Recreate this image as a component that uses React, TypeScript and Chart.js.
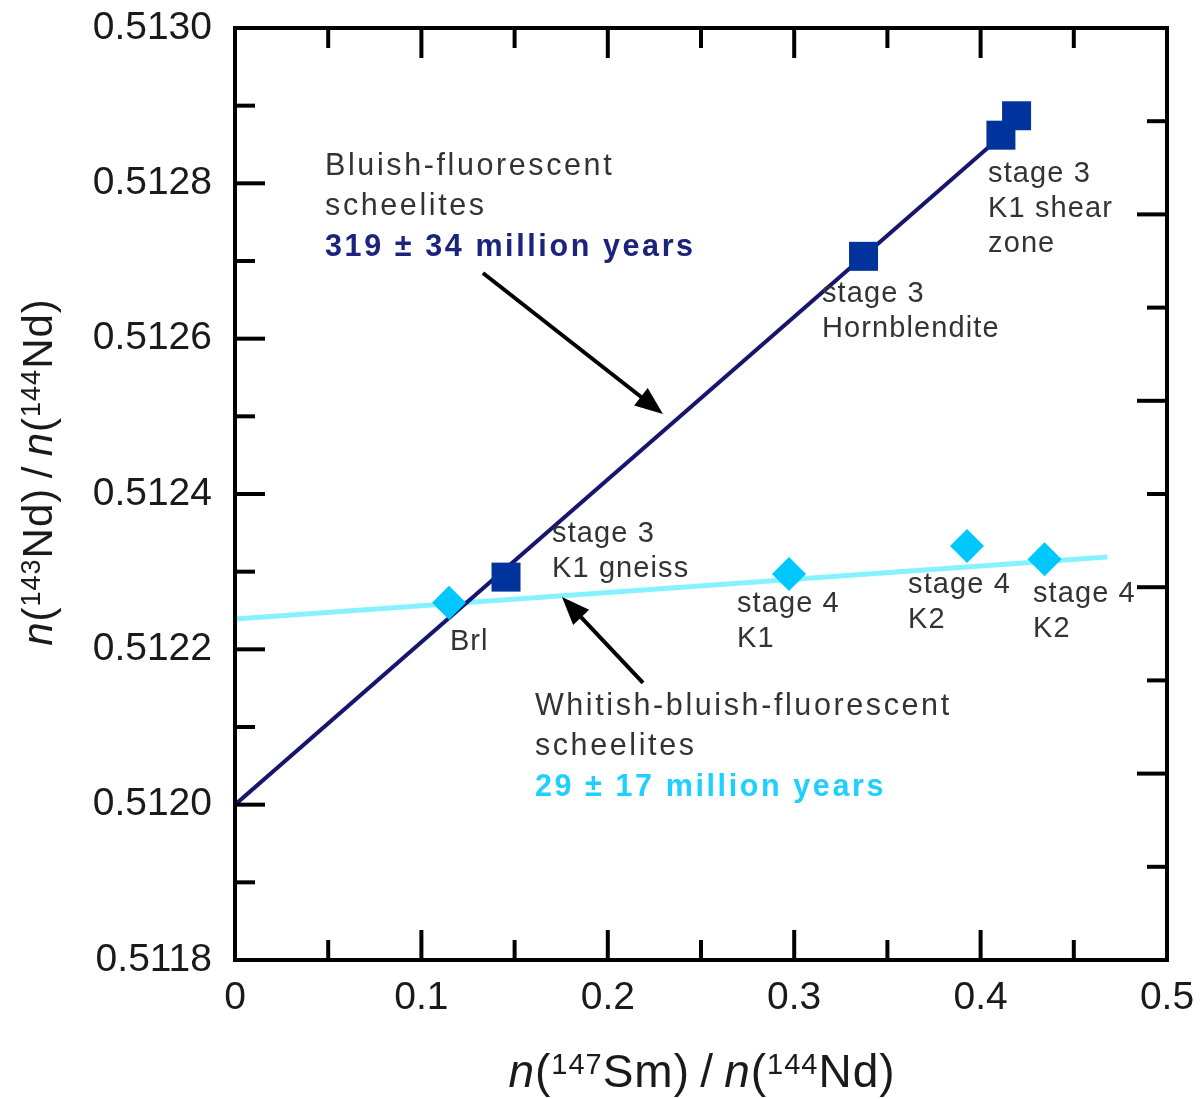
import { useEffect, useRef } from "react";
import { Chart, registerables } from "chart.js";

Chart.register(...registerables);

// ---- axis ticks ----
const xTicks = [0, 0.1, 0.2, 0.3, 0.4, 0.5];
const xTickLabels = ["0", "0.1", "0.2", "0.3", "0.4", "0.5"];
const xMinorTicks = [0.05, 0.15, 0.25, 0.35, 0.45];
const yTicks = [0.5118, 0.512, 0.5122, 0.5124, 0.5126, 0.5128, 0.513];
const yTickLabels = ["0.5118", "0.5120", "0.5122", "0.5124", "0.5126", "0.5128", "0.5130"];
const yMinorTicks = [0.5119, 0.5121, 0.5123, 0.5125, 0.5127, 0.5129];
const rightTicks = [0, 1, 2, 3, 4, 5, 6, 7, 8, 9, 10];

// ---- data ----
const bluishX = [0.1454, 0.3372, 0.4109, 0.4193];
const bluishY = [0.512293, 0.512706, 0.512862, 0.512887];
const whitishX = [0.1148, 0.2972, 0.3927, 0.4343];
const whitishY = [0.51226, 0.512297, 0.512333, 0.512316];
const bluishLineX = [0, 0.425];
const bluishLineY = [0.512, 0.51289];
const whitishLineX = [0, 0.468];
const whitishLineY = [0.512239, 0.512319];

// ---- annotations (data coordinates) ----
const pointLabels = [
  { lines: ["stage 3", "K1 shear", "zone"], x: 0.404, y: 0.5128011 },
  { lines: ["stage 3", "Hornblendite"], x: 0.3149, y: 0.5126472 },
  { lines: ["stage 3", "K1 gneiss"], x: 0.1701, y: 0.5123382 },
  { lines: ["Brl"], x: 0.1153, y: 0.5121992 },
  { lines: ["stage 4", "K1"], x: 0.2693, y: 0.5122481 },
  { lines: ["stage 4", "K2"], x: 0.3611, y: 0.5122725 },
  { lines: ["stage 4", "K2"], x: 0.4281, y: 0.512261 },
];
const groupLabels = [
  { lines: ["Bluish-fluorescent", "scheelites"], age: "319 ± 34 million years", x: 0.0483, y: 0.5128108, color: "#1c237c" },
  { lines: ["Whitish-bluish-fluorescent", "scheelites"], age: "29 ± 17 million years", x: 0.1609, y: 0.5121155, color: "#1fcfff" },
];
const arrows = [
  { x1: 0.133, y1: 0.5126846, x2: 0.2296, y2: 0.512503 },
  { x1: 0.2189, y1: 0.5121567, x2: 0.1754, y2: 0.5122674 },
];

const FONT = '"Liberation Sans", Arial, Helvetica, sans-serif';

type Seg = { t: string; i?: boolean; s?: boolean };
const xTitle: Seg[] = [
  { t: "n", i: true }, { t: "(" }, { t: "147", s: true }, { t: "Sm)\u2009/\u2009" },
  { t: "n", i: true }, { t: "(" }, { t: "144", s: true }, { t: "Nd)" },
];
const yTitle: Seg[] = [
  { t: "n", i: true }, { t: "(" }, { t: "143", s: true }, { t: "Nd)\u2009/\u2009" },
  { t: "n", i: true }, { t: "(" }, { t: "144", s: true }, { t: "Nd)" },
];

function drawRich(ctx: CanvasRenderingContext2D, segs: Seg[], cx: number, cy: number, F: number, S: number, rot: number) {
  ctx.save();
  ctx.translate(cx, cy);
  ctx.rotate(rot);
  ctx.fillStyle = "#1a1a1a";
  ctx.textBaseline = "alphabetic";
  ctx.textAlign = "left";
  (ctx as any).letterSpacing = "1px";
  const fontFor = (g: Seg) => `${g.i ? "italic " : ""}${g.s ? S : F}px ${FONT}`;
  let total = 0;
  const widths = segs.map((g) => {
    ctx.font = fontFor(g);
    const w = ctx.measureText(g.t).width;
    total += w;
    return w;
  });
  let x = -total / 2;
  const raise = 0.716 * (F - S) + 1;
  segs.forEach((g, k) => {
    ctx.font = fontFor(g);
    ctx.fillText(g.t, x, g.s ? -raise : 0);
    x += widths[k];
  });
  ctx.restore();
}

function drawArrow(ctx: CanvasRenderingContext2D, x1: number, y1: number, x2: number, y2: number) {
  const a = Math.atan2(y2 - y1, x2 - x1);
  const hl = 28, hw = 11;
  const bx = x2 - hl * Math.cos(a), by = y2 - hl * Math.sin(a);
  ctx.beginPath();
  ctx.moveTo(x1, y1);
  ctx.lineTo(bx + 4 * Math.cos(a), by + 4 * Math.sin(a));
  ctx.stroke();
  ctx.beginPath();
  ctx.moveTo(x2, y2);
  ctx.lineTo(bx - hw * Math.sin(a), by + hw * Math.cos(a));
  ctx.lineTo(bx + hw * Math.sin(a), by - hw * Math.cos(a));
  ctx.closePath();
  ctx.fill();
}

const overlay = {
  id: "overlay",
  afterDraw(chart: any) {
    const { ctx, chartArea } = chart;
    const { left, right, top, bottom } = chartArea;
    const sx = chart.scales.x, sy = chart.scales.y, s2 = chart.scales.y2;
    ctx.save();
    ctx.strokeStyle = "#000";
    ctx.lineWidth = 4;
    ctx.lineCap = "butt";
    ctx.strokeRect(left, top, right - left, bottom - top);
    const seg = (a: number, b: number, c: number, d: number) => {
      ctx.beginPath(); ctx.moveTo(a, b); ctx.lineTo(c, d); ctx.stroke();
    };
    const MAJ = 30, MIN = 20;
    xTicks.forEach((v) => { const p = sx.getPixelForValue(v); seg(p, bottom, p, bottom - MAJ); seg(p, top, p, top + MAJ); });
    xMinorTicks.forEach((v) => { const p = sx.getPixelForValue(v); seg(p, bottom, p, bottom - MIN); seg(p, top, p, top + MIN); });
    yTicks.forEach((v) => { const p = sy.getPixelForValue(v); seg(left, p, left + MAJ, p); });
    yMinorTicks.forEach((v) => { const p = sy.getPixelForValue(v); seg(left, p, left + MIN, p); });
    rightTicks.forEach((v) => { const p = s2.getPixelForValue(v); seg(right, p, right - (v % 2 === 0 ? MAJ : MIN), p); });

    // arrows
    ctx.fillStyle = "#000";
    ctx.lineWidth = 4;
    arrows.forEach((a) => drawArrow(ctx, sx.getPixelForValue(a.x1), sy.getPixelForValue(a.y1), sx.getPixelForValue(a.x2), sy.getPixelForValue(a.y2)));

    // point labels
    ctx.textAlign = "left";
    ctx.textBaseline = "alphabetic";
    ctx.fillStyle = "#333333";
    ctx.font = `29px ${FONT}`;
    (ctx as any).letterSpacing = "1.1px";
    pointLabels.forEach((l) => {
      const px = sx.getPixelForValue(l.x), py = sy.getPixelForValue(l.y);
      l.lines.forEach((t, k) => ctx.fillText(t, px, py + k * 35));
    });

    // group labels
    (ctx as any).letterSpacing = "2.6px";
    groupLabels.forEach((g) => {
      const px = sx.getPixelForValue(g.x), py = sy.getPixelForValue(g.y);
      ctx.font = `30.5px ${FONT}`;
      ctx.fillStyle = "#333333";
      g.lines.forEach((t, k) => ctx.fillText(t, px, py + k * 40));
      ctx.font = `bold 30.5px ${FONT}`;
      ctx.fillStyle = g.color;
      ctx.fillText(g.age, px, py + g.lines.length * 40.5);
    });
    (ctx as any).letterSpacing = "0px";
    ctx.restore();

    drawRich(ctx, xTitle, (left + right) / 2 + 1, bottom + 127, 46, 29, 0);
    drawRich(ctx, yTitle, 52, 472, 42, 27, -Math.PI / 2);
  },
};

export default function App() {
  const ref = useRef<HTMLCanvasElement | null>(null);
  useEffect(() => {
    if (!ref.current) return;
    const chart = new Chart(ref.current, {
      type: "scatter",
      data: {
        datasets: [
          {
            label: "Whitish-bluish-fluorescent",
            data: whitishX.map((x, i) => ({ x, y: whitishY[i] })),
            pointStyle: "rectRot",
            pointRadius: 17,
            pointHoverRadius: 17,
            backgroundColor: "#00c8ff",
            borderWidth: 0,
          },
          {
            label: "Bluish-fluorescent",
            data: bluishX.map((x, i) => ({ x, y: bluishY[i] })),
            pointStyle: "rect",
            pointRadius: 20.5,
            pointHoverRadius: 20.5,
            backgroundColor: "#00339c",
            borderWidth: 0,
          },
          {
            label: "Bluish isochron",
            data: bluishLineX.map((x, i) => ({ x, y: bluishLineY[i] })),
            showLine: true,
            pointRadius: 0,
            borderColor: "#16166e",
            borderWidth: 4,
          },
          {
            label: "Whitish isochron",
            data: whitishLineX.map((x, i) => ({ x, y: whitishLineY[i] })),
            showLine: true,
            pointRadius: 0,
            borderColor: "#86f2ff",
            borderWidth: 5,
          },
        ],
      },
      options: {
        animation: false,
        responsive: true,
        maintainAspectRatio: false,
        layout: { padding: { top: 28, right: 34, left: 0, bottom: 0 } },
        plugins: { legend: { display: false }, tooltip: { enabled: false } },
        events: [],
        scales: {
          x: {
            type: "linear",
            min: 0,
            max: 0.5,
            grid: { display: false, drawTicks: false },
            border: { display: false },
            afterBuildTicks: (s: any) => { s.ticks = xTicks.map((v) => ({ value: v })); },
            afterFit: (s: any) => { s.height = 139; s.paddingLeft = 0; s.paddingRight = 0; },
            ticks: {
              padding: 15,
              color: "#1a1a1a",
              font: { family: FONT, size: 39 },
              maxRotation: 0,
              autoSkip: false,
              callback: (_v: any, i: number) => xTickLabels[i],
            },
          },
          y: {
            type: "linear",
            min: 0.5118,
            max: 0.513,
            grid: { display: false, drawTicks: false },
            border: { display: false },
            afterBuildTicks: (s: any) => { s.ticks = yTicks.map((v) => ({ value: v })); },
            afterFit: (s: any) => { s.width = 235; s.paddingTop = 0; s.paddingBottom = 0; },
            ticks: {
              padding: 23,
              color: "#1a1a1a",
              font: { family: FONT, size: 39 },
              autoSkip: false,
              callback: (_v: any, i: number) => yTickLabels[i],
            },
          },
          y2: {
            type: "linear",
            position: "right",
            min: 0,
            max: 10,
            display: false,
          },
        },
      },
      plugins: [overlay],
    });
    return () => chart.destroy();
  }, []);
  return (
    <div style={{ position: "absolute", left: 0, top: 0, width: 1201, height: 1099, background: "#fff" }}>
      <canvas ref={ref} />
    </div>
  );
}
